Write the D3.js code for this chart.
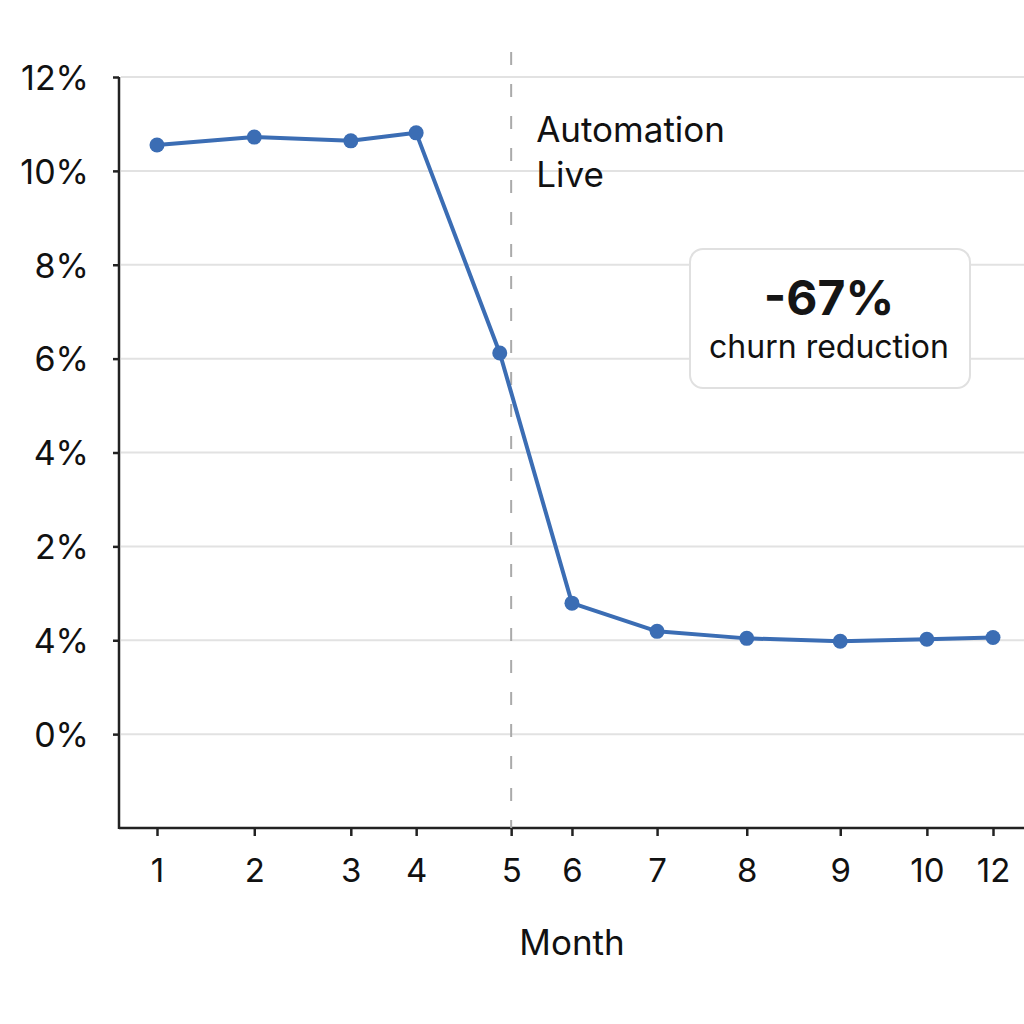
<!DOCTYPE html>
<html>
<head>
<meta charset="utf-8">
<script src="https://cdn.jsdelivr.net/npm/d3@7"></script>
<style>
  body { margin: 0; background: #fff; }
  svg { display: block; font-family: Inter, "Noto Sans", sans-serif; }
</style>
</head>
<body>
<div id="chart"></div>
<script>
// month labels on the x axis and where each sits along the axis (axis units)
const monthLabels = ["1", "2", "3", "4", "5", "6", "7", "8", "9", "10", "12"];
const monthTickPos = [1, 2.28, 3.55, 4.41, 5.66, 6.46, 7.58, 8.76, 9.99, 11.13, 12];

// churn series: position along the axis and value on the y scale
const pointPos = [1, 2.28, 3.55, 4.41, 5.51, 6.46, 7.58, 8.76, 9.99, 11.13, 12];
const churnValues = [10.55, 10.72, 10.64, 10.81, 6.12, 0.79, 0.19, 0.04, -0.02, 0.02, 0.06];

// y ticks and their labels, as printed
const yTickValues = [12, 10, 8, 6, 4, 2, 0, -2];
const yTickLabels = ["12%", "10%", "8%", "6%", "4%", "2%", "4%", "0%"];

// event marker
const eventPos = 5.66;
const eventLabel = ["Automation", "Live"];
const calloutValue = "-67%";
const calloutText = "churn reduction";

const width = 1024, height = 1024;
const plotLeft = 119, plotRight = 1024, plotTop = 77, plotBottom = 828;

const svg = d3.select("#chart").append("svg")
    .attr("width", width)
    .attr("height", height);

const x = d3.scaleLinear().domain([1, 12]).range([157, 993]);
const y = d3.scaleLinear().domain([-4, 12]).range([plotBottom, plotTop]);

// horizontal gridlines
svg.append("g")
    .selectAll("line")
    .data(yTickValues)
    .join("line")
    .attr("x1", plotLeft + 2)
    .attr("x2", plotRight)
    .attr("y1", d => y(d))
    .attr("y2", d => y(d))
    .attr("stroke", "#e2e2e2")
    .attr("stroke-width", 2);

// y axis
const yAxis = svg.append("g")
    .attr("transform", `translate(${plotLeft},0)`)
    .call(d3.axisLeft(y)
        .tickValues(yTickValues)
        .tickFormat((d, i) => yTickLabels[i])
        .tickSize(6)
        .tickPadding(24)
        .tickSizeOuter(0));
yAxis.select(".domain").remove();
yAxis.selectAll(".tick line").attr("stroke", "#222").attr("stroke-width", 2.5);
yAxis.selectAll(".tick text")
    .attr("font-size", 34)
    .attr("fill", "#111")
    .attr("dy", "0.36em")
    .attr("font-family", "Inter, 'Noto Sans', sans-serif");

// x axis
const xAxis = svg.append("g")
    .attr("transform", `translate(0,${plotBottom})`)
    .call(d3.axisBottom(x)
        .tickValues(monthTickPos)
        .tickFormat((d, i) => monthLabels[i])
        .tickSize(8)
        .tickPadding(23)
        .tickSizeOuter(0));
xAxis.select(".domain").remove();
xAxis.selectAll(".tick line").attr("stroke", "#222").attr("stroke-width", 2.5);
xAxis.selectAll(".tick text")
    .attr("font-size", 33)
    .attr("fill", "#111")
    .attr("font-family", "Inter, 'Noto Sans', sans-serif");

// axis frame lines
svg.append("line")
    .attr("x1", plotLeft).attr("x2", plotLeft)
    .attr("y1", plotTop).attr("y2", plotBottom + 1)
    .attr("stroke", "#222").attr("stroke-width", 2.5);
svg.append("line")
    .attr("x1", plotLeft).attr("x2", plotRight)
    .attr("y1", plotBottom).attr("y2", plotBottom)
    .attr("stroke", "#222").attr("stroke-width", 2.5);

// event line
svg.append("line")
    .attr("x1", x(eventPos)).attr("x2", x(eventPos))
    .attr("y1", 52).attr("y2", plotBottom)
    .attr("stroke", "#aaa")
    .attr("stroke-width", 2)
    .attr("stroke-dasharray", "13,19");

svg.append("text")
    .attr("x", x(eventPos) + 25)
    .attr("y", 142)
    .attr("font-size", 35)
    .attr("fill", "#111")
    .selectAll("tspan")
    .data(eventLabel)
    .join("tspan")
    .attr("x", x(eventPos) + 25)
    .attr("dy", (d, i) => i === 0 ? 0 : 45)
    .text(d => d);

// series
const points = pointPos.map((p, i) => ({ pos: p, value: churnValues[i] }));

svg.append("path")
    .datum(points)
    .attr("fill", "none")
    .attr("stroke", "#3b6db4")
    .attr("stroke-width", 4)
    .attr("stroke-linejoin", "round")
    .attr("d", d3.line().x(d => x(d.pos)).y(d => y(d.value)));

svg.append("g")
    .selectAll("circle")
    .data(points)
    .join("circle")
    .attr("cx", d => x(d.pos))
    .attr("cy", d => y(d.value))
    .attr("r", 7.5)
    .attr("fill", "#3b6db4");

// callout box
const callout = svg.append("g");
callout.append("rect")
    .attr("x", 690).attr("y", 249)
    .attr("width", 280).attr("height", 139)
    .attr("rx", 13)
    .attr("fill", "#fff")
    .attr("stroke", "#e0e0e0")
    .attr("stroke-width", 2);
callout.append("text")
    .attr("x", 829).attr("y", 315)
    .attr("text-anchor", "middle")
    .attr("font-size", 48)
    .attr("font-weight", 700)
    .attr("fill", "#151515")
    .text(calloutValue);
callout.append("text")
    .attr("x", 829).attr("y", 358)
    .attr("text-anchor", "middle")
    .attr("font-size", 32)
    .attr("fill", "#111")
    .text(calloutText);

// axis title
svg.append("text")
    .attr("x", 572).attr("y", 955)
    .attr("text-anchor", "middle")
    .attr("font-size", 35)
    .attr("fill", "#111")
    .text("Month");
</script>
</body>
</html>
